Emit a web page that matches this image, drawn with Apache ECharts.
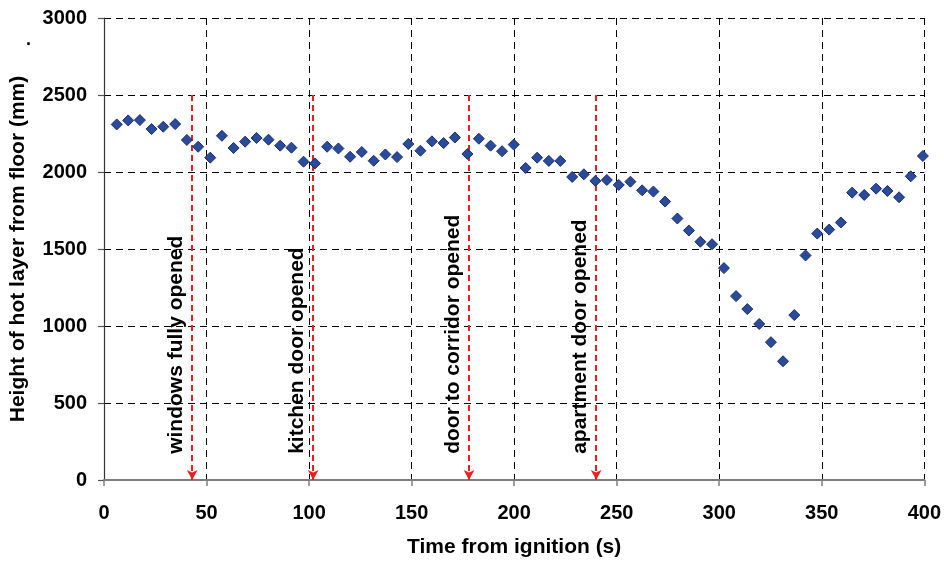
<!DOCTYPE html>
<html>
<head>
<meta charset="utf-8">
<title>Hot layer height</title>
<script src="https://cdn.jsdelivr.net/npm/echarts@6/dist/echarts.min.js"></script>
<style>
  html, body { margin: 0; padding: 0; background: #fff; }
  #main { width: 944px; height: 563px; }
</style>
</head>
<body>
<div id="main"></div>
<script>
// measured points: time (s) and height of hot layer (mm)
var times = [6.2, 11.8, 17.5, 23.2, 28.9, 34.7, 40.4, 45.9, 51.8, 57.5,
             63.2, 68.8, 74.4, 80.2, 85.9, 91.4, 97.3, 102.9, 108.8, 114.3,
             120.0, 125.7, 131.5, 137.2, 142.9, 148.4, 154.3, 159.9, 165.6, 171.1,
             177.2, 182.8, 188.5, 194.1, 199.8, 205.6, 211.2, 216.9, 222.5, 228.3,
             234.0, 239.6, 245.2, 251.0, 256.7, 262.4, 267.9, 273.6, 279.6, 285.2,
             290.8, 296.5, 302.3, 308.2, 313.7, 319.5, 325.2, 331.1, 336.6, 342.1,
             347.8, 353.6, 359.3, 364.8, 370.7, 376.5, 382.0, 387.7, 393.4, 399.3];
var heights = [2309, 2335, 2337, 2279, 2294, 2311, 2208, 2164, 2093, 2235,
               2156, 2197, 2221, 2210, 2171, 2158, 2067, 2056, 2164, 2153,
               2099, 2130, 2073, 2114, 2097, 2182, 2138, 2199, 2188, 2224,
               2117, 2216, 2171, 2135, 2178, 2026, 2093, 2072, 2072, 1968,
               1985, 1942, 1948, 1916, 1937, 1881, 1873, 1808, 1698, 1620,
               1547, 1531, 1376, 1194, 1110, 1013, 895, 771, 1071, 1458,
               1600, 1626, 1672, 1866, 1851, 1892, 1877, 1836, 1972, 2104];

// events marked with red arrows
var eventTimes = [43, 102, 178, 240];
var eventNames = ['windows fully opened', 'kitchen door opened', 'door to corridor opened', 'apartment door opened'];
var eventTop = 2500;

var LABEL_BASE = 170; // where the rotated event text starts

var pts = times.map(function (t, i) { return [t, heights[i]]; });

var font = '"Liberation Sans", Arial, sans-serif';
var plain = function (v) { return String(v); };

var chart = echarts.init(document.getElementById('main'));
chart.setOption({
    animation: false,
    grid: { left: 104, right: 19, top: 18, bottom: 82 },
    xAxis: {
        type: 'value', min: 0, max: 400, interval: 50,
        name: 'Time from ignition (s)', nameLocation: 'middle', nameGap: 57,
        nameTextStyle: { fontFamily: font, fontWeight: 'bold', fontSize: 21, color: '#000' },
        axisLine: { lineStyle: { color: '#7f7f7f', width: 2 } },
        axisTick: { show: true, inside: false, length: 6, lineStyle: { color: '#7f7f7f', width: 1.5 } },
        axisLabel: { margin: 23, formatter: plain, fontFamily: font, fontWeight: 'bold', fontSize: 20, color: '#000' },
        splitLine: { show: true, lineStyle: { color: '#000', type: [7, 5], width: 1 } }
    },
    yAxis: {
        type: 'value', min: 0, max: 3000, interval: 500,
        name: 'Height of hot layer from floor (mm)', nameLocation: 'middle', nameGap: 75,
        nameTextStyle: { fontFamily: font, fontWeight: 'bold', fontSize: 21, color: '#000' },
        axisLine: { show: true, lineStyle: { color: '#333', width: 1.2 } },
        axisTick: { show: true, inside: false, length: 6, lineStyle: { color: '#555', width: 1.2 } },
        axisLabel: { margin: 17, formatter: plain, fontFamily: font, fontWeight: 'bold', fontSize: 20, color: '#000' },
        splitLine: { show: true, lineStyle: { color: '#000', type: [7, 5], width: 1 } }
    },
    graphic: [
        { type: 'text', left: 26, top: 31, style: { text: '.', font: 'bold 18px ' + font, fill: '#000' } }
    ],
    series: [
        {
            type: 'scatter',
            data: pts,
            symbol: 'diamond',
            symbolSize: [11, 11],
            itemStyle: { color: '#2a4a9b', borderColor: '#1b2d70', borderWidth: 1, opacity: 1 },
            z: 5
        },
        {
            type: 'scatter',
            data: eventTimes.map(function (t, i) { return { value: [t, LABEL_BASE], name: eventNames[i] }; }),
            symbolSize: 0,
            silent: true,
            itemStyle: { opacity: 1 },
            label: {
                show: true, formatter: '{b}', rotate: 90, position: [0, 0],
                align: 'left', verticalAlign: 'bottom', offset: [0, -5],
                fontFamily: font, fontWeight: 'bold', fontSize: 21, color: '#000'
            },
            markLine: {
                silent: true,
                symbol: ['none', 'arrow'],
                symbolSize: [8, 10],
                label: { show: false },
                lineStyle: { color: '#f01e1e', type: [6, 4], width: 2, opacity: 1 },
                data: eventTimes.map(function (t) { return [{ coord: [t, eventTop] }, { coord: [t, 0] }]; })
            },
            z: 3
        }
    ]
});
</script>
</body>
</html>
